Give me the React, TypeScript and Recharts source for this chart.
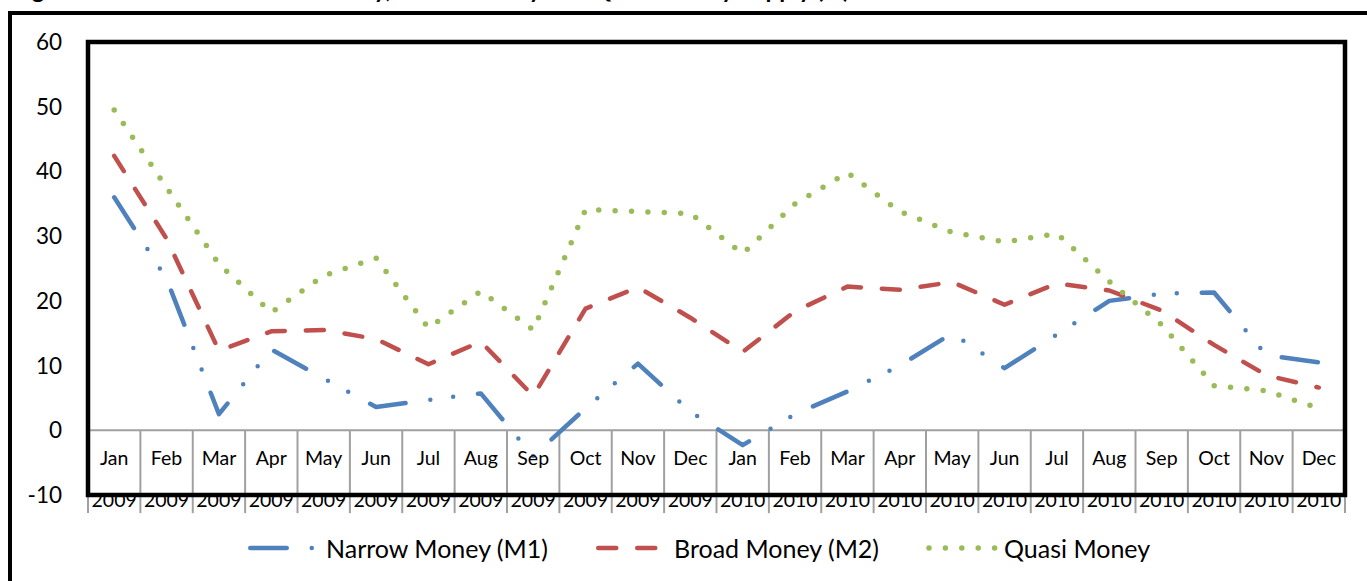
import React from 'react';
import { LineChart, Line, XAxis, YAxis, ReferenceLine, ReferenceArea, Legend } from 'recharts';

const months = ['Jan', 'Feb', 'Mar', 'Apr', 'May', 'Jun', 'Jul', 'Aug', 'Sep', 'Oct', 'Nov', 'Dec',
  'Jan', 'Feb', 'Mar', 'Apr', 'May', 'Jun', 'Jul', 'Aug', 'Sep', 'Oct', 'Nov', 'Dec'];
const years = ['2009', '2009', '2009', '2009', '2009', '2009', '2009', '2009', '2009', '2009', '2009', '2009',
  '2010', '2010', '2010', '2010', '2010', '2010', '2010', '2010', '2010', '2010', '2010', '2010'];

const narrowMoney = [36.0, 23.4, 2.5, 12.5, 8.0, 3.6, 4.7, 5.7, -4.0, 3.4, 10.3, 2.9,
  -2.3, 2.5, 6.0, 10.0, 15.0, 9.6, 14.8, 20.0, 21.1, 21.3, 11.6, 10.5];
const broadMoney = [42.4, 29.6, 12.3, 15.3, 15.5, 14.1, 10.2, 13.7, 5.3, 18.8, 22.1, 17.4,
  12.1, 18.4, 22.2, 21.7, 22.9, 19.4, 22.7, 21.6, 18.5, 13.2, 8.5, 6.6];
const quasiMoney = [49.5, 37.5, 25.7, 18.2, 23.9, 26.6, 15.8, 21.5, 15.5, 34.1, 33.8, 33.5,
  27.3, 35.0, 39.8, 33.8, 30.6, 29.1, 30.4, 23.0, 16.3, 6.9, 6.1, 3.4];

const yTicks = [-10, 0, 10, 20, 30, 40, 50, 60];

const seriesNames = ['Narrow Money (M1)', 'Broad Money (M2)', 'Quasi Money'];
const seriesKeys = ['m1', 'm2', 'quasi'];
const seriesColors = ['#4F81BD', '#C0504D', '#9BBB59'];
const seriesDash = ['36.5 25 0 23 0 25', '18 21', '0 16.4'];
const seriesWidth = [4.5, 4.5, 5.5];

const FONT = 'Lato, "Open Sans", sans-serif';

const data = months.map((m, i) => ({
  idx: i,
  month: m,
  year: years[i],
  m1: narrowMoney[i],
  m2: broadMoney[i],
  quasi: quasiMoney[i],
}));

const xTicks = months.map((_, i) => i);
const boundaries = [...months.map((_, i) => i - 0.5), months.length - 0.5];

const MonthTick = (props: any) => {
  const { x, y, payload } = props;
  const i = payload.value as number;
  return (
    <g>
      <text x={x} y={y - 30} textAnchor="middle" fontSize={19.5} fontFamily={FONT} fill="#000">
        {months[i]}
      </text>
      <text x={x} y={y + 12} textAnchor="middle" fontSize={19.5} fontFamily={FONT} fill="#000">
        {years[i]}
      </text>
    </g>
  );
};

const itemWidths = [348, 330, 260];

const renderLegend = () => {
  return (
    <div style={{ display: 'flex', alignItems: 'center', height: 36, paddingLeft: 248, fontFamily: FONT }}>
      {seriesKeys.map((key, j) => (
        <div key={key} style={{ display: 'flex', alignItems: 'center', width: itemWidths[j] }}>
          <svg width={72} height={14} style={{ display: 'block' }}>
            <line
              x1={j === 2 ? 3 : 2.25}
              y1={7}
              x2={j === 2 ? 70 : 66}
              y2={7}
              stroke={seriesColors[j]}
              strokeWidth={seriesWidth[j]}
              strokeDasharray={seriesDash[j]}
              strokeLinecap="round"
            />
          </svg>
          <span style={{ marginLeft: 6, fontSize: 25, color: '#000', whiteSpace: 'nowrap', lineHeight: '36px' }}>
            {seriesNames[j]}
          </span>
        </div>
      ))}
    </div>
  );
};

export default function App() {
  return (
    <div style={{ position: 'fixed', left: 0, top: 0, width: 1367, height: 581, overflow: 'hidden', background: '#fff' }}>
      <div
        style={{
          position: 'absolute',
          left: 12,
          top: -26,
          fontFamily: FONT,
          fontWeight: 700,
          fontSize: 24,
          lineHeight: '29px',
          whiteSpace: 'nowrap',
          color: '#000',
        }}
      >
        Figure 1: Growth of Narrow Money, Broad Money and Quasi Money Supply (%)
      </div>
      <div
        style={{
          position: 'absolute',
          left: 8,
          top: 11,
          width: 2000,
          height: 1000,
          borderTop: '4px solid #000',
          borderLeft: '4px solid #000',
        }}
      />
      <div style={{ position: 'absolute', left: 0, top: 0 }}>
        <LineChart width={1367} height={581} data={data} margin={{ top: 42, right: 22, bottom: 0, left: 18 }}>
          <XAxis
            dataKey="idx"
            type="number"
            domain={[-0.5, 23.5]}
            ticks={xTicks}
            interval={0}
            allowDataOverflow
            axisLine={false}
            tickLine={false}
            tickSize={0}
            tickMargin={0}
            height={86}
            tick={<MonthTick />}
          />
          <YAxis
            type="number"
            domain={[-10, 60]}
            ticks={yTicks}
            interval={0}
            allowDataOverflow
            axisLine={false}
            tickLine={false}
            tickSize={0}
            tickMargin={26}
            width={70}
            tick={{ fontSize: 22.5, fill: '#000', fontFamily: FONT }}
          />
          <ReferenceLine y={0} stroke="#A0A0A0" strokeWidth={2} ifOverflow="visible" />
          {boundaries.map((b) => (
            <ReferenceLine
              key={'sep' + b}
              segment={[{ x: b, y: 0 }, { x: b, y: -12.8 }]}
              stroke="#A0A0A0"
              strokeWidth={2}
              ifOverflow="visible"
            />
          ))}
          {seriesKeys.map((k, j) => (
            <Line
              key={k}
              dataKey={k}
              name={seriesNames[j]}
              type="linear"
              stroke={seriesColors[j]}
              strokeWidth={seriesWidth[j]}
              strokeDasharray={seriesDash[j]}
              strokeLinecap="round"
              strokeLinejoin="round"
              dot={false}
              activeDot={false}
              isAnimationActive={false}
            />
          ))}
          <ReferenceArea
            x1={-0.5}
            x2={23.5}
            y1={-10}
            y2={60}
            fill="none"
            fillOpacity={0}
            stroke="#000"
            strokeWidth={4.5}
            strokeOpacity={1}
            ifOverflow="visible"
            zIndex={2000}
          />
          <Legend
            layout="vertical"
            align="center"
            verticalAlign="middle"
            content={renderLegend}
            wrapperStyle={{ position: 'absolute', left: 0, top: 530, width: 1367, height: 36 }}
          />
        </LineChart>
      </div>
    </div>
  );
}
